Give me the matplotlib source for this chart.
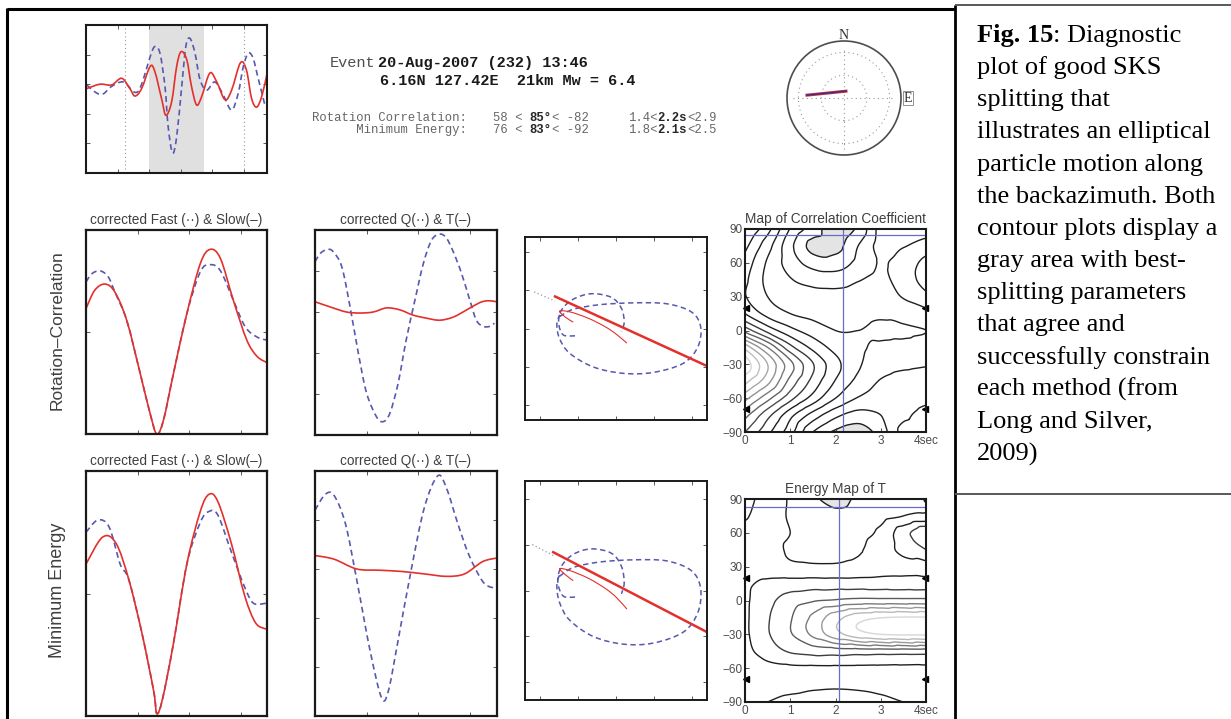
import numpy as np
import matplotlib
matplotlib.use("Agg")
import matplotlib.pyplot as plt
import matplotlib.tri as mtri
from matplotlib.lines import Line2D
from matplotlib.patches import Circle, PathPatch
from matplotlib.path import Path

plt.rcParams['font.family'] = ['Liberation Sans', 'DejaVu Sans']

# ======================= DATA =======================
# top window: radial (dashed) and transverse (solid) traces
top_red_t = [0.02, 0.44, 0.81, 1.13, 1.39, 1.55, 1.76, 2.03, 2.18, 2.40, 2.53, 2.71, 2.87, 3.01,
             3.19, 3.34, 3.50, 3.66, 3.92, 4.14, 4.40, 4.61, 4.89, 5.08, 5.24, 5.40, 5.56, 5.72]
top_red_a = [0.14, 0.20, 0.19, 0.28, 0.14, 0.04, 0.14, 0.44, 0.37, -0.01, -0.22, -0.04, 0.44, 0.64,
             0.53, 0.17, -0.08, 0.03, 0.35, 0.23, -0.01, 0.12, 0.49, 0.39, 0.01, -0.11, 0.03, 0.32]
top_blue_t = [0.02, 0.34, 0.55, 0.81, 1.18, 1.50, 1.66, 1.81, 2.03, 2.18, 2.34, 2.50, 2.60, 2.74,
              2.87, 3.03, 3.16, 3.29, 3.45, 3.61, 3.82, 4.08, 4.35, 4.61, 4.82, 4.98, 5.14, 5.29,
              5.45, 5.61, 5.66]
top_blue_a = [0.19, 0.08, 0.07, 0.17, 0.23, 0.10, 0.11, 0.26, 0.57, 0.71, 0.62, 0.17, -0.37, -0.73,
              -0.51, 0.17, 0.71, 0.82, 0.62, 0.26, 0.12, 0.23, 0.05, -0.15, 0.08, 0.44, 0.62, 0.55,
              0.28, 0.01, -0.08]
top_window = [1.99, 3.73]
top_marks = [1.23, 5.0]

# Rotation-Correlation row
rc_fs_red_t = [0, 0.17, 0.37, 0.56, 0.79, 1.05, 1.24, 1.37, 1.50, 1.69, 1.95, 2.21, 2.40, 2.60,
               2.85, 3.11, 3.31, 3.50]
rc_fs_red_a = [0.23, 0.41, 0.47, 0.39, 0.11, -0.41, -0.80, -1.0, -0.86, -0.41, 0.18, 0.67, 0.81,
               0.72, 0.31, -0.08, -0.24, -0.30]
rc_fs_blue_t = [0, 0.11, 0.27, 0.43, 0.56, 0.79, 1.05, 1.24, 1.37, 1.50, 1.69, 1.95, 2.21, 2.40,
                2.60, 2.85, 3.08, 3.31, 3.50]
rc_fs_blue_a = [0.49, 0.57, 0.60, 0.54, 0.39, 0.11, -0.41, -0.80, -1.0, -0.86, -0.41, 0.18, 0.59,
                0.66, 0.60, 0.31, 0.05, -0.05, -0.08]
rc_qt_blue_t = [0, 0.10, 0.23, 0.35, 0.52, 0.68, 0.84, 1.0, 1.19, 1.32, 1.45, 1.61, 1.77, 1.94,
                2.10, 2.26, 2.42, 2.55, 2.68, 2.84, 3.0, 3.13, 3.26, 3.39, 3.48]
rc_qt_blue_a = [0.69, 0.77, 0.81, 0.79, 0.64, 0.25, -0.20, -0.59, -0.82, -0.87, -0.79, -0.50,
                -0.07, 0.32, 0.67, 0.90, 0.96, 0.92, 0.79, 0.58, 0.32, 0.12, 0.06, 0.06, 0.09]
rc_qt_red_t = [0, 0.29, 0.61, 0.87, 1.13, 1.39, 1.65, 1.90, 2.16, 2.42, 2.68, 2.94, 3.19, 3.35, 3.52]
rc_qt_red_a = [0.30, 0.25, 0.20, 0.19, 0.20, 0.24, 0.22, 0.17, 0.14, 0.12, 0.15, 0.22, 0.29, 0.31, 0.30]
rc_pm_loop_x = [-0.45, -0.58, -0.63, -0.60, -0.47, -0.27, -0.05, 0.06, 0.09, 0.06]
rc_pm_loop_y = [-0.08, -0.07, 0.06, 0.20, 0.32, 0.38, 0.34, 0.22, 0.07, -0.03]
rc_pm_ell_x = [-0.62, -0.47, -0.18, 0.19, 0.56, 0.83, 0.93, 0.90, 0.74, 0.41, 0.08, -0.25, -0.51,
               -0.62, -0.65, -0.62]
rc_pm_ell_y = [0.13, 0.21, 0.26, 0.28, 0.27, 0.18, 0.02, -0.20, -0.38, -0.48, -0.49, -0.42, -0.27,
               -0.11, 0.04, 0.15]
rc_pm_lin_x = [-0.67, 1.0]
rc_pm_lin_y = [0.35, -0.41]
rc_pm_thin_x = [-0.47, -0.55, -0.62, -0.50, -0.30, -0.12, 0.0, 0.12]
rc_pm_thin_y = [0.07, 0.12, 0.19, 0.18, 0.11, 0.02, -0.06, -0.16]
rc_pm_dot_x = [-0.90, -0.67]
rc_pm_dot_y = [0.40, 0.30]

# Minimum-Energy row
me_fs_red_t = [0, 0.32, 0.58, 0.83, 1.09, 1.31, 1.37, 1.48, 1.69, 1.95, 2.21, 2.38, 2.55, 2.81,
               3.07, 3.28, 3.48]
me_fs_red_a = [0.24, 0.46, 0.41, 0.11, -0.34, -0.80, -0.98, -0.86, -0.41, 0.24, 0.67, 0.81, 0.75,
               0.41, -0.02, -0.24, -0.29]
me_fs_blue_t = [0, 0.23, 0.45, 0.66, 0.83, 1.09, 1.31, 1.37, 1.48, 1.69, 1.95, 2.21, 2.38, 2.55,
                2.81, 3.07, 3.24, 3.48]
me_fs_blue_a = [0.50, 0.60, 0.54, 0.24, 0.11, -0.34, -0.80, -0.98, -0.86, -0.41, 0.24, 0.58, 0.67,
                0.64, 0.34, 0.05, -0.08, -0.08]
me_qt_blue_t = [0, 0.20, 0.37, 0.59, 0.81, 1.07, 1.29, 1.42, 1.60, 1.86, 2.12, 2.38, 2.55, 2.77,
                2.99, 3.25, 3.43, 3.53]
me_qt_blue_a = [0.68, 0.81, 0.80, 0.57, 0.11, -0.47, -0.85, -0.80, -0.41, 0.18, 0.70, 0.96, 0.86,
                0.57, 0.31, 0.10, 0.05, 0.07]
me_qt_red_t = [0, 0.37, 0.81, 1.25, 1.68, 2.12, 2.55, 2.90, 3.25, 3.53]
me_qt_red_a = [0.31, 0.28, 0.20, 0.19, 0.18, 0.16, 0.14, 0.16, 0.26, 0.29]
me_pm_loop_x = [-0.45, -0.58, -0.64, -0.60, -0.47, -0.27, -0.05, 0.06, 0.09, 0.06]
me_pm_loop_y = [-0.06, -0.05, 0.08, 0.22, 0.33, 0.38, 0.34, 0.22, 0.07, -0.03]
me_pm_ell_x = [-0.62, -0.47, -0.18, 0.19, 0.56, 0.83, 0.93, 0.90, 0.74, 0.41, 0.08, -0.25, -0.51,
               -0.62, -0.65, -0.62]
me_pm_ell_y = [0.13, 0.21, 0.26, 0.28, 0.27, 0.18, 0.02, -0.20, -0.38, -0.48, -0.49, -0.42, -0.27,
               -0.11, 0.04, 0.15]
me_pm_lin_x = [-0.69, 1.0]
me_pm_lin_y = [0.35, -0.38]
me_pm_thin_x = [-0.47, -0.55, -0.62, -0.50, -0.30, -0.12, 0.0, 0.12]
me_pm_thin_y = [0.09, 0.14, 0.20, 0.18, 0.11, 0.02, -0.06, -0.17]
me_pm_dot_x = [-0.92, -0.69]
me_pm_dot_y = [0.42, 0.32]

# grid maps (rows: phi from 90 down to -90; columns: dt 0..4 s)
dt_grid = [0, 0.5, 1, 1.5, 2, 2.5, 3, 3.5, 4]
phi_grid = [90, 75, 60, 45, 30, 15, 0, -15, -30, -45, -60, -75, -90]
corr_map = [
    [6.2, 7.5, 9.3, 10.3, 11.3, 10.6, 9.0, 8.6, 8.8],
    [6.8, 8.2, 9.8, 11.0, 11.0, 10.0, 9.0, 9.2, 9.6],
    [7.3, 8.6, 9.6, 10.3, 10.4, 9.8, 9.2, 9.6, 10.2],
    [7.6, 8.7, 9.2, 9.5, 9.6, 9.3, 9.1, 9.6, 10.3],
    [7.7, 8.5, 8.9, 9.0, 9.0, 8.9, 8.9, 9.3, 9.8],
    [7.0, 8.0, 8.5, 8.7, 8.8, 8.7, 8.6, 8.8, 9.0],
    [5.0, 6.5, 7.5, 8.1, 8.5, 8.5, 8.4, 8.4, 8.5],
    [2.0, 4.0, 6.0, 7.2, 8.0, 8.4, 8.6, 8.7, 8.8],
    [0.5, 2.5, 4.5, 6.2, 7.5, 8.4, 8.9, 9.1, 9.2],
    [1.5, 3.0, 5.0, 6.5, 7.8, 8.7, 9.3, 9.5, 9.5],
    [3.0, 4.5, 6.0, 7.3, 8.5, 9.3, 9.6, 9.6, 9.4],
    [4.5, 6.0, 7.5, 8.8, 9.8, 10.3, 10.0, 9.4, 9.0],
    [5.5, 6.8, 8.2, 10.0, 10.9, 11.2, 10.4, 9.0, 8.8],
]
energy_map = [
    [6.2, 6.9, 7.6, 8.3, 8.9, 8.3, 7.9, 7.6, 7.5],
    [6.4, 7.0, 7.6, 8.0, 8.2, 8.0, 7.8, 7.5, 7.3],
    [6.8, 7.1, 7.5, 7.8, 7.9, 7.8, 7.3, 5.9, 4.6],
    [6.9, 7.2, 7.6, 7.8, 7.8, 7.6, 7.0, 6.2, 5.5],
    [6.8, 7.0, 7.3, 7.35, 7.35, 7.2, 6.95, 6.8, 6.8],
    [6.7, 6.3, 6.1, 6.0, 6.0, 6.0, 6.0, 6.0, 6.0],
    [6.7, 5.8, 5.0, 4.6, 4.4, 4.2, 4.2, 4.2, 4.2],
    [6.7, 5.6, 4.6, 3.3, 1.9, 0.9, 0.55, 0.45, 0.45],
    [6.7, 5.6, 4.6, 3.3, 1.9, 0.9, 0.5, 0.4, 0.4],
    [6.8, 6.0, 5.4, 5.1, 5.0, 5.0, 5.0, 5.0, 5.0],
    [7.0, 6.8, 6.7, 6.7, 6.7, 6.7, 6.7, 6.7, 6.7],
    [7.0, 7.05, 7.15, 7.3, 7.35, 7.3, 7.15, 7.05, 7.0],
    [7.2, 7.5, 7.8, 7.95, 8.0, 7.95, 7.8, 7.5, 7.3],
]
rc_best_dt, rc_best_phi = 2.17, 85
me_best_dt, me_best_phi = 2.08, 83
null_phi = [20, -70]

# polar (backazimuth / fast axis)
polar_x = [0.035, -0.65]
polar_y = [0.12, 0.05]

# text
event_line1 = "20-Aug-2007 (232) 13:46"
event_line2 = "6.16N 127.42E  21km Mw = 6.4"
rc_label = "Rotation Correlation:"
me_label = "      Minimum Energy:"
rc_phi = ["58 < ", "85\u00b0", "< -82"]
rc_dt = ["1.4<", "2.2s", "<2.9"]
me_phi = ["76 < ", "83\u00b0", "< -92"]
me_dt = ["1.8<", "2.1s", "<2.5"]
caption_lines = ["plot of good SKS", "splitting that", "illustrates an elliptical",
                 "particle motion along", "the backazimuth. Both", "contour plots display a",
                 "gray area with best-", "splitting parameters", "that agree and",
                 "successfully constrain", "each method (from", "Long and Silver,", "2009)"]

# ======================= FIGURE =======================
W, H = 1231, 719
fig = plt.figure(figsize=(W / 100, H / 100), dpi=100)
RED = '#e3302c'
BLUE = '#5858b0'
BLUE_LINE = '#6b6bc8'
DASH = (0, (3.5, 2.3))


def ax_px(x0, y0, x1, y1):
    return fig.add_axes([x0 / W, 1 - y1 / H, (x1 - x0) / W, (y1 - y0) / H])


def fline(x0, y0, x1, y1, color='k', lw=2.0):
    fig.add_artist(Line2D([x0 / W, x1 / W], [1 - y0 / H, 1 - y1 / H], transform=fig.transFigure,
                          color=color, lw=lw, solid_capstyle='butt'))


def smooth(ax, xs, ys, **kw):
    """draw a smooth curve through the given points (Catmull-Rom as cubic Bezier path)"""
    P = np.column_stack([xs, ys]).astype(float)
    n = len(P)
    verts = [P[0]]
    codes = [Path.MOVETO]
    for i in range(n - 1):
        p0 = P[i - 1] if i > 0 else P[i]
        p1, p2 = P[i], P[i + 1]
        p3 = P[i + 2] if i + 2 < n else P[i + 1]
        verts += [p1 + (p2 - p0) / 6.0, p2 - (p3 - p1) / 6.0, p2]
        codes += [Path.CURVE4] * 3
    ax.add_patch(PathPatch(Path(verts, codes), fill=False, **kw))


def style_box(ax, xt, yt, lw=1.6):
    ax.set_xticks(xt)
    ax.set_yticks(yt)
    ax.tick_params(direction='in', length=3, width=0.7, top=True, right=True,
                   labelbottom=False, labelleft=False, colors='0.35')
    for s in ax.spines.values():
        s.set_linewidth(lw)
        s.set_color('0.1')


def wave(ax, rt, ra, bt, ba):
    smooth(ax, bt, ba, ec=BLUE, lw=1.2, ls=DASH)
    smooth(ax, rt, ra, ec=RED, lw=1.2)


# outer frame
fline(7, 9, 955, 9, 'k', 2.2)
fline(7, 8, 7, 719, 'k', 2.2)
fline(955, 5, 955, 719, 'k', 2.0)
fline(955, 5, 1231, 5, '0.35', 1.4)
fline(955, 494, 1231, 494, '0.35', 1.4)

# ---- top waveform ----
ax = ax_px(86, 25, 267, 173)
ax.axvspan(top_window[0], top_window[1], color='#e0e0e0', lw=0)
for m in top_marks:
    ax.axvline(m, color='0.6', lw=0.8, ls=(0, (1, 2.5)))
wave(ax, top_red_t, top_red_a, top_blue_t, top_blue_a)
ax.set_xlim(0, 5.73)
ax.set_ylim(-1, 1)
style_box(ax, [1, 2, 3, 4, 5], [-0.6, -0.2, 0.2, 0.6], lw=1.5)

# ---- event text ----
mono = 'Liberation Mono'
fs_ev = 11
fig.text(330 / W, 1 - 67 / H, "Event", family=mono, size=fs_ev, color='0.3', va='baseline')
fig.text(378 / W, 1 - 67 / H, event_line1, family=mono, size=fs_ev, weight='bold', color='0.1', va='baseline')
fig.text(380 / W, 1 - 85 / H, event_line2, family=mono, size=fs_ev, weight='bold', color='0.1', va='baseline')

fs_sm = 8.85
cw = 0.6 * fs_sm * 100 / 72


def seg_text(x, y, parts):
    for i, p in enumerate(parts):
        fig.text(x / W, 1 - y / H, p, family=mono, size=fs_sm, va='baseline',
                 weight='bold' if i == 1 else 'normal', color='0.15' if i == 1 else '0.4')
        x += len(p) * cw


fig.text(312 / W, 1 - 121 / H, rc_label, family=mono, size=fs_sm, color='0.4', va='baseline')
fig.text(312 / W, 1 - 133 / H, me_label, family=mono, size=fs_sm, color='0.4', va='baseline')
seg_text(493, 121, rc_phi)
seg_text(628, 121, rc_dt)
seg_text(493, 133, me_phi)
seg_text(628, 133, me_dt)

# ---- polar ----
axp = ax_px(774, 28, 914, 168)
lim = 70 / 57
axp.set_xlim(-lim, lim)
axp.set_ylim(-lim, lim)
axp.axis('off')
axp.add_patch(Circle((0, 0), 1, fill=False, ec='0.3', lw=1.2))
for r in (0.4, 0.8):
    axp.add_patch(Circle((0, 0), r, fill=False, ec='0.6', lw=0.8, ls=(0, (1, 3))))
axp.plot([-0.9, 0.9], [0, 0], color='0.6', lw=0.8, ls=(0, (1, 3)))
axp.plot([0, 0], [-0.9, 0.9], color='0.6', lw=0.8, ls=(0, (1, 3)))
axp.plot(polar_x, polar_y, color=RED, lw=2.2)
axp.plot(polar_x, polar_y, color='#303090', lw=1.1)
axp.text(0, 1.1, "N", family='Liberation Serif', size=10, ha='center', va='center', color='0.2')
axp.text(1.12, 0, "E", family='Liberation Serif', size=10, ha='center', va='center', color='0.2',
         bbox=dict(boxstyle='square,pad=0.05', fc='white', ec='0.5', lw=0.6))


# ---- maps ----
def draw_map(ax, Z, levels, black_from, fill_at, title, best_dt, best_phi):
    dt = np.array(dt_grid, float)
    ph = np.array(phi_grid, float)
    nx, ny = len(dt), len(ph)
    U, V = np.meshgrid(np.arange(nx, dtype=float), np.arange(ny, dtype=float))
    tris = []
    for j in range(ny - 1):
        for i in range(nx - 1):
            a = j * nx + i
            tris += [[a, a + 1, a + nx + 1], [a, a + nx + 1, a + nx]]
    tri = mtri.Triangulation(U.ravel(), V.ravel(), np.array(tris))
    z = np.array(Z, float).ravel()
    interp = mtri.CubicTriInterpolator(tri, z, kind='geom')
    tri_r, z_r = mtri.UniformTriRefiner(tri).refine_field(z, triinterpolator=interp, subdiv=4)
    tri_d = mtri.Triangulation(np.interp(tri_r.x, np.arange(nx), dt),
                               np.interp(tri_r.y, np.arange(ny), ph), tri_r.triangles)
    ax.tricontourf(tri_d, z_r, levels=[fill_at, z_r.max() + 1], colors=['#e4e4e4'])
    cols = []
    for l in levels:
        if l >= black_from:
            cols.append('0.12')
        else:
            g = 0.12 + 0.72 * (black_from - l) / (black_from - levels[0])
            cols.append(str(min(g, 0.85)))
    ax.tricontour(tri_d, z_r, levels=levels, colors=cols, linewidths=1.0)
    ax.axhline(best_phi, color=BLUE_LINE, lw=0.9)
    ax.axvline(best_dt, color=BLUE_LINE, lw=0.9)
    for p in null_phi:
        ax.plot(0.03, p, marker='<', ms=5, color='k', clip_on=False)
        ax.plot(3.97, p, marker='<', ms=5, color='k', clip_on=False)
    ax.set_xlim(0, 4)
    ax.set_ylim(-90, 90)
    ax.set_xticks([0, 1, 2, 3, 4])
    ax.set_xticklabels(['0', '1', '2', '3', '4sec'])
    ax.set_yticks([-90, -60, -30, 0, 30, 60, 90])
    ax.set_yticklabels(['\u221290', '\u221260', '\u221230', '0', '30', '60', '90'])
    ax.tick_params(direction='in', length=3, width=0.7, labelsize=8.5, colors='0.3', pad=2)
    for s in ax.spines.values():
        s.set_linewidth(1.5)
        s.set_color('0.1')
    ax.set_title(title, fontsize=9.8, color='0.25', pad=4)


ax = ax_px(745, 229, 926, 432)
draw_map(ax, corr_map, list(np.arange(1.0, 11.0, 0.75)), 7.0, 10.75,
         "Map of Correlation Coefficient", rc_best_dt, rc_best_phi)
ax = ax_px(745, 499, 926, 702)
draw_map(ax, energy_map, [0.5, 1.5, 2.5, 3.5, 4.5, 5.5, 6.5, 7.5, 8.5], 6.5, 8.5,
         "Energy Map of T", me_best_dt, me_best_phi)


# ---- waveform rows ----
def row(box1, box2, box3, fs, qt, pm, label, ylab_y, ylab_fs):
    a1 = ax_px(*box1)
    wave(a1, *fs)
    a1.set_xlim(0, 3.5)
    a1.set_ylim(-1, 1)
    style_box(a1, [1, 2, 3], [0])
    a1.set_title("corrected Fast (\u00b7\u00b7) & Slow(\u2013)", fontsize=9.8, color='0.25', pad=4)
    a2 = ax_px(*box2)
    wave(a2, *qt)
    a2.set_xlim(0, 3.53)
    a2.set_ylim(-1, 1)
    style_box(a2, [1, 2, 3], [-0.6, -0.2, 0.2, 0.6])
    a2.set_title("corrected Q(\u00b7\u00b7) & T(\u2013)", fontsize=9.8, color='0.25', pad=4)
    a3 = ax_px(*box3)
    lx, ly, ex, ey, sx, sy, tx, ty, dx, dy = pm
    a3.plot(dx, dy, color='0.6', lw=0.9, ls=(0, (1, 2)))
    smooth(a3, lx, ly, ec=BLUE, lw=1.1, ls=DASH)
    smooth(a3, ex, ey, ec=BLUE, lw=1.1, ls=DASH)
    smooth(a3, tx, ty, ec=RED, lw=0.8)
    a3.plot(sx, sy, color=RED, lw=1.8)
    a3.set_xlim(-1, 1)
    a3.set_ylim(-1, 1)
    style_box(a3, [-0.84, -0.42, 0, 0.42, 0.84], [-0.84, -0.42, 0, 0.42, 0.84], lw=1.4)
    fig.text(57 / W, 1 - ylab_y / H, label, rotation=90, ha='center', va='center', fontsize=ylab_fs,
             color='0.25')


row((86, 230, 267, 434), (315, 230, 497, 435), (525, 237, 707, 420),
    (rc_fs_red_t, rc_fs_red_a, rc_fs_blue_t, rc_fs_blue_a),
    (rc_qt_red_t, rc_qt_red_a, rc_qt_blue_t, rc_qt_blue_a),
    (rc_pm_loop_x, rc_pm_loop_y, rc_pm_ell_x, rc_pm_ell_y, rc_pm_lin_x, rc_pm_lin_y,
     rc_pm_thin_x, rc_pm_thin_y, rc_pm_dot_x, rc_pm_dot_y),
    "Rotation\u2013Correlation", 330, 12.5)
row((86, 471, 267, 716), (315, 471, 497, 716), (525, 481, 707, 700),
    (me_fs_red_t, me_fs_red_a, me_fs_blue_t, me_fs_blue_a),
    (me_qt_red_t, me_qt_red_a, me_qt_blue_t, me_qt_blue_a),
    (me_pm_loop_x, me_pm_loop_y, me_pm_ell_x, me_pm_ell_y, me_pm_lin_x, me_pm_lin_y,
     me_pm_thin_x, me_pm_thin_y, me_pm_dot_x, me_pm_dot_y),
    "Minimum Energy", 590, 13)

# ---- caption ----
serif = 'Liberation Serif'
fs_cap = 19
x_cap = 977
base0 = 41.7
step = 32.2
t0 = fig.text(x_cap / W, 1 - base0 / H, "Fig. 15", family=serif, size=fs_cap, weight='bold',
              va='baseline', color='k')
fig.canvas.draw()
bb = t0.get_window_extent()
fig.text(bb.x1 / W, 1 - base0 / H, ": Diagnostic", family=serif, size=fs_cap, va='baseline', color='k')
for i, line in enumerate(caption_lines, start=1):
    fig.text(x_cap / W, 1 - (base0 + i * step) / H, line, family=serif, size=fs_cap,
             va='baseline', color='k')

fig.savefig("out.png", dpi=100)
